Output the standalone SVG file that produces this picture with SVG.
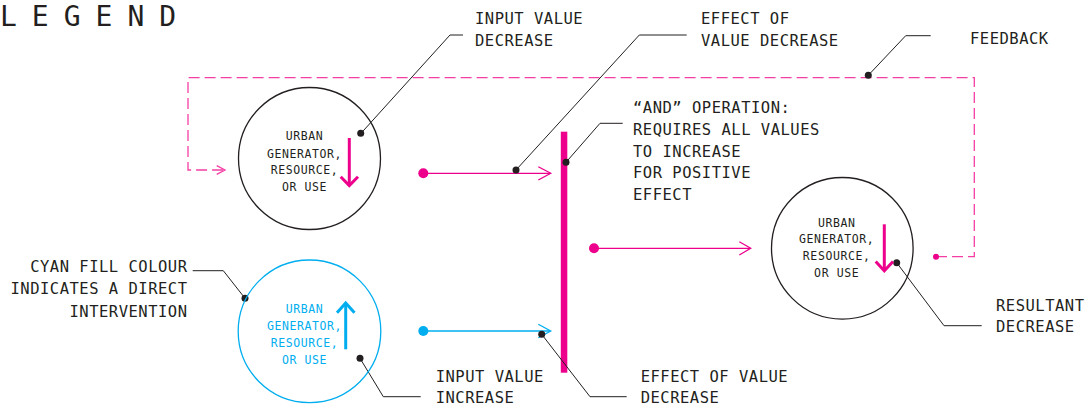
<svg xmlns="http://www.w3.org/2000/svg" width="1091" height="413" viewBox="0 0 1091 413">
<defs>
<style>
.t{font-family:"DejaVu Sans Mono","Liberation Mono",monospace;font-size:15.5px;letter-spacing:0.5px;fill:#231f20}
.c{font-family:"DejaVu Sans Mono","Liberation Mono",monospace;font-size:11.5px;letter-spacing:0.6px;fill:#231f20;text-anchor:middle}
.cc{fill:#00aeef}
.circ{fill:none;stroke:#231f20;stroke-width:1.3}
.ldr{fill:none;stroke:#231f20;stroke-width:1}
.dot{fill:#231f20}
.pk{fill:none;stroke:#ec008c;stroke-width:1.3}
.pkt{fill:none;stroke:#ec008c;stroke-width:3}
.cy{fill:none;stroke:#00aeef;stroke-width:1.3}
.cyt{fill:none;stroke:#00aeef;stroke-width:3}
.fb{fill:none;stroke:#f43ea4;stroke-width:1.3;stroke-dasharray:11 5}
</style>
</defs>
<rect width="1091" height="413" fill="#fff"/>
<text x="0" y="26" style="font-family:'DejaVu Sans Mono','Liberation Mono',monospace;font-size:28px;letter-spacing:15px;fill:#231f20">LEGEND</text>

<g id="connectors">
<!-- feedback loop -->
<path class="fb" d="M936,256.7 H974.3 V77.7 H188 V170 H224"/>
<path class="pk" d="M216.7,165.7 L225,170 L216.7,174.3" style="stroke:#f43ea4"/>
<circle cx="936" cy="256.7" r="3" fill="#ec008c"/>
<!-- pink input -->
<line class="pk" x1="423" y1="173.3" x2="550" y2="173.3"/>
<path class="pk" d="M538.3,166.7 L550.7,173.3 L538.3,180"/>
<circle cx="423.3" cy="173.3" r="5" fill="#ec008c"/>
<!-- cyan input -->
<line class="cy" x1="423" y1="331" x2="550" y2="331"/>
<path class="cy" d="M538.3,324.3 L550.7,331 L538.3,337.7"/>
<circle cx="423.3" cy="331" r="5" fill="#00aeef"/>
<!-- output -->
<line class="pk" x1="594" y1="248.3" x2="750" y2="248.3"/>
<path class="pk" d="M739.3,241.7 L750.7,248.3 L739.3,255"/>
<circle cx="594" cy="248.3" r="5" fill="#ec008c"/>
<!-- AND bar -->
<rect x="560.8" y="131.7" width="6.5" height="241" fill="#ec008c"/>
<!-- leaders -->
<path class="ldr" d="M361,133.3 L450,35 H463"/>
<circle class="dot" cx="360.7" cy="133.3" r="3.5"/>
<path class="ldr" d="M516,170 L639.3,35 H686.7"/>
<circle class="dot" cx="516" cy="170" r="3.5"/>
<path class="ldr" d="M566,162.3 L600,123.3 H622.7"/>
<circle class="dot" cx="566" cy="162.3" r="3.5"/>
<path class="ldr" d="M868.3,75.3 L905.7,35.7 H930.7"/>
<circle class="dot" cx="868.3" cy="75.3" r="3.5"/>
<path class="ldr" d="M192.7,270.7 H223.3 L245,298.3"/>
<circle class="dot" cx="245" cy="298.3" r="3.5"/>
<path class="ldr" d="M360,358.3 L383.3,396.7 H420.7"/>
<circle class="dot" cx="360" cy="358.3" r="3.5"/>
<path class="ldr" d="M541.7,334.3 L590,396.7 H626.7"/>
<circle class="dot" cx="541.7" cy="334.3" r="3.5"/>
<path class="ldr" d="M896.7,262.7 L944,325.7 H981.7"/>
<circle class="dot" cx="896.7" cy="262.7" r="3.5"/>
</g>

<g id="node-top">
<circle class="circ" cx="309.5" cy="158.5" r="71"/>
<text class="c" x="304.5" y="140">URBAN</text>
<text class="c" x="304.5" y="157.7">GENERATOR,</text>
<text class="c" x="304.5" y="174.3">RESOURCE,</text>
<text class="c" x="304.5" y="191">OR USE</text>
<line class="pkt" x1="349.3" y1="138" x2="349.3" y2="184"/>
<path class="pkt" d="M340.7,176.7 L349.3,185.5 L358,176.7"/>
</g>

<g id="node-cyan">
<circle class="cy" cx="309.5" cy="331.3" r="71.3"/>
<text class="c cc" x="304.5" y="312.5">URBAN</text>
<text class="c cc" x="304.5" y="330">GENERATOR,</text>
<text class="c cc" x="304.5" y="347">RESOURCE,</text>
<text class="c cc" x="304.5" y="364">OR USE</text>
<line class="cyt" x1="345.7" y1="303.5" x2="345.7" y2="349.3"/>
<path class="cyt" d="M337,312.7 L345.7,303 L354.5,312.7"/>
</g>

<g id="node-right">
<circle class="circ" cx="842.3" cy="248.3" r="70.8"/>
<text class="c" x="836.7" y="226.7">URBAN</text>
<text class="c" x="836.7" y="243.3">GENERATOR,</text>
<text class="c" x="836.7" y="260">RESOURCE,</text>
<text class="c" x="836.7" y="276.7">OR USE</text>
<line class="pkt" x1="884.3" y1="224.3" x2="884.3" y2="270.5"/>
<path class="pkt" d="M875.7,261.5 L884.3,270.7 L893,261.5"/>
</g>

<g id="label-input-decrease">
<text class="t" x="475" y="24">INPUT VALUE</text>
<text class="t" x="475" y="46">DECREASE</text>
</g>
<g id="label-effect-top">
<text class="t" x="701" y="24">EFFECT OF</text>
<text class="t" x="701" y="46">VALUE DECREASE</text>
</g>
<g id="label-feedback">
<text class="t" x="970" y="44">FEEDBACK</text>
</g>
<g id="label-and">
<text class="t" x="633" y="113.3">“AND” OPERATION:</text>
<text class="t" x="633" y="135">REQUIRES ALL VALUES</text>
<text class="t" x="633" y="156.7">TO INCREASE</text>
<text class="t" x="633" y="178.3">FOR POSITIVE</text>
<text class="t" x="633" y="200">EFFECT</text>
</g>
<g id="label-cyan" style="text-anchor:end">
<text class="t" x="187.5" y="271.7">CYAN FILL COLOUR</text>
<text class="t" x="187.5" y="294">INDICATES A DIRECT</text>
<text class="t" x="187.5" y="316.7">INTERVENTION</text>
</g>
<g id="label-input-increase">
<text class="t" x="435.7" y="381.7">INPUT VALUE</text>
<text class="t" x="435.7" y="403.3">INCREASE</text>
</g>
<g id="label-effect-bottom">
<text class="t" x="640.7" y="381.7">EFFECT OF VALUE</text>
<text class="t" x="640.7" y="403.3">DECREASE</text>
</g>
<g id="label-resultant">
<text class="t" x="996" y="310.7">RESULTANT</text>
<text class="t" x="996" y="332.3">DECREASE</text>
</g>
</svg>
